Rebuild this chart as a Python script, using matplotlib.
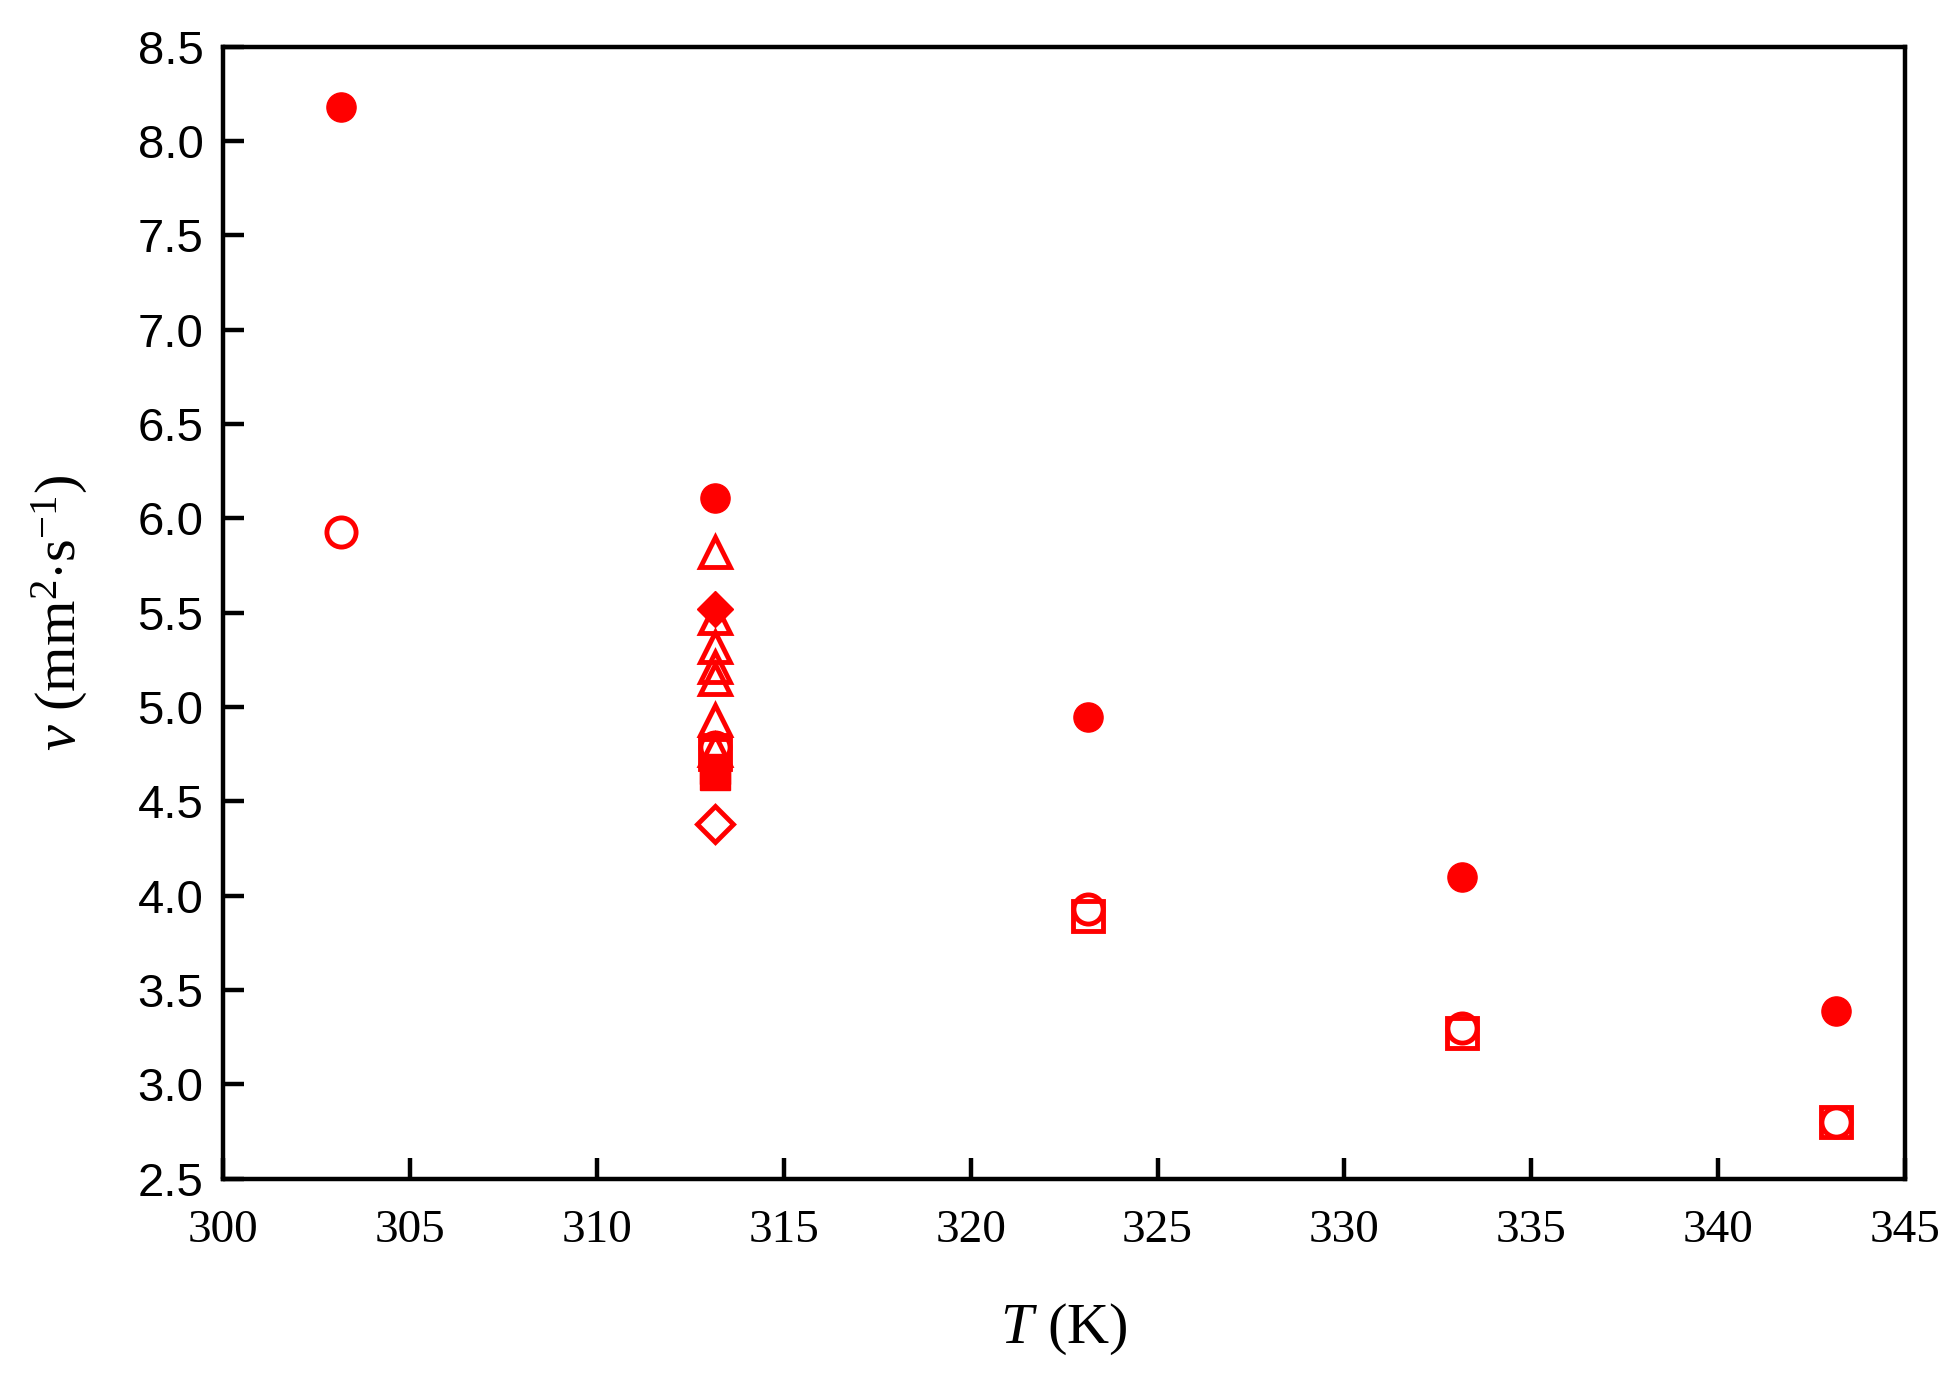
import matplotlib
matplotlib.use("Agg")
import matplotlib.pyplot as plt

plt.rcParams['mathtext.fontset'] = 'custom'
plt.rcParams['mathtext.rm'] = 'Liberation Serif'
plt.rcParams['mathtext.it'] = 'Liberation Serif:italic'

# temperatures (K)
T_all = [303.15, 313.15, 323.15, 333.15, 343.15]
T_sq = [313.15, 323.15, 333.15, 343.15]
T_mid = 313.15

# kinematic viscosity (mm2/s)
nu_filled_circle = [8.18, 6.11, 4.95, 4.10, 3.39]
nu_open_circle = [5.93, 4.79, 3.93, 3.30, 2.80]
nu_open_square = [4.75, 3.89, 3.27, 2.80]
nu_open_triangle = [5.82, 5.47, 5.32, 5.21, 5.15, 4.93, 4.77]
nu_filled_diamond = [5.52]
nu_filled_square = [4.67, 4.64]
nu_open_diamond = [4.38]

red = '#ff0000'
fig = plt.figure(figsize=(19.56, 13.77), dpi=100)
ax = fig.add_axes([0.114, 0.144, 0.860, 0.822])

ms = 21
mew = 3.5
ax.plot(T_all, nu_open_circle, 'o', ms=ms, mfc='white', mec=red, mew=mew, ls='none')
ax.plot(T_sq, nu_open_square, 's', ms=ms, mfc='none', mec=red, mew=mew, ls='none')
ax.plot([T_mid] * len(nu_open_triangle), nu_open_triangle, '^', ms=ms, mfc='none', mec=red, mew=mew, ls='none')
ax.plot([T_mid] * len(nu_filled_square), nu_filled_square, 's', ms=ms, color=red, ls='none')
ax.plot([T_mid], nu_open_diamond, 'D', ms=ms - 3, mfc='none', mec=red, mew=mew, ls='none')
ax.plot([T_mid], nu_filled_diamond, 'D', ms=ms - 3, color=red, ls='none')
ax.plot(T_all, nu_filled_circle, 'o', ms=ms, color=red, ls='none')

ax.set_xlim(300, 345)
ax.set_ylim(2.5, 8.5)
ax.set_xticks(range(300, 346, 5))
ax.set_yticks([2.5 + 0.5 * i for i in range(13)])
ax.set_yticklabels([f'{2.5 + 0.5 * i:.1f}' for i in range(13)])

for s in ax.spines.values():
    s.set_linewidth(3.2)
ax.tick_params(direction='in', length=15, width=3.2)
ax.tick_params(axis='x', pad=22)
ax.tick_params(axis='y', pad=14)
for lab in ax.get_xticklabels():
    lab.set_fontfamily('Liberation Serif')
    lab.set_fontsize(34)
for lab in ax.get_yticklabels():
    lab.set_fontfamily('Liberation Sans')
    lab.set_fontsize(34)

ax.set_xlabel('$T$ (K)', fontsize=42, fontfamily='Liberation Serif', labelpad=36)
ax.set_ylabel(r'$\mathit{\nu}$ (mm$^{2}$$\cdot$s$^{-1}$)', fontsize=42,
              fontfamily='Liberation Serif', labelpad=34)

fig.savefig('out.png', dpi=100)
